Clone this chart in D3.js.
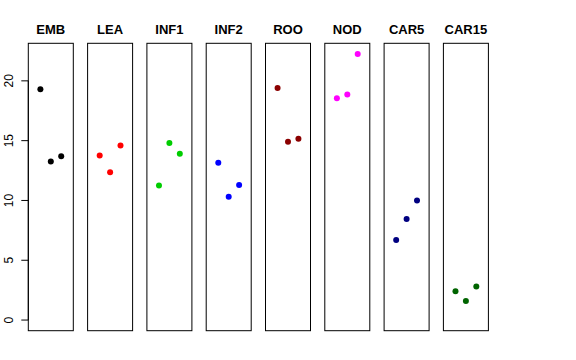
<!DOCTYPE html>
<meta charset="utf-8">
<style>
body { margin: 0; background: #fff; }
svg { font-family: "Liberation Sans", Arial, sans-serif; }
.title { font-weight: bold; font-size: 13px; }
.axis text { font-size: 12px; }
</style>
<body>
<script src="https://cdn.jsdelivr.net/npm/d3@7"></script>
<script>

// panel names, colours and the three values drawn in each panel
var groups = ["EMB", "LEA", "INF1", "INF2", "ROO", "NOD", "CAR5", "CAR15"];
var colors = ["#000000", "#ff0000", "#00cd00", "#0000ff", "#8b0000", "#ff00ff", "#000080", "#006400"];
var vals = [
  [19.3, 13.25, 13.7],
  [13.75, 12.35, 14.6],
  [11.25, 14.8, 13.9],
  [13.15, 10.3, 11.3],
  [19.4, 14.9, 15.15],
  [18.55, 18.85, 22.25],
  [6.7, 8.45, 10.0],
  [2.4, 1.6, 2.8]
];
var yTicks = [0, 5, 10, 15, 20];

var width = 576, height = 360;
var plotTop = 43.3, plotBottom = 330.7;
var panelW = 45, firstX = 28.3, step = 59.3;

var svg = d3.select("body").append("svg")
  .attr("width", width)
  .attr("height", height);

// y range is 0..max, padded by 4% like base graphics
var ymax = d3.max(vals, function(d) { return d3.max(d); });
var pad = ymax * 0.04;
var y = d3.scaleLinear().domain([-pad, ymax + pad]).range([plotBottom, plotTop]);

// x positions 1..3 inside a 0..4 window (also padded 4%)
var x = d3.scaleLinear().domain([-0.16, 4.16]).range([0, panelW]);

var panels = svg.selectAll("g.panel")
  .data(groups)
  .enter().append("g")
    .attr("class", "panel")
    .attr("transform", function(d, i) { return "translate(" + (firstX + i * step) + ",0)"; });

panels.append("rect")
  .attr("x", 0)
  .attr("y", plotTop)
  .attr("width", panelW)
  .attr("height", plotBottom - plotTop)
  .attr("fill", "none")
  .attr("stroke", "#000");

panels.append("text")
  .attr("class", "title")
  .attr("x", panelW / 2)
  .attr("y", 34)
  .attr("text-anchor", "middle")
  .text(function(d) { return d; });

panels.selectAll("circle")
  .data(function(d, i) { return vals[i].map(function(v, j) { return {v: v, j: j + 1, c: colors[i]}; }); })
  .enter().append("circle")
    .attr("cx", function(d) { return x(d.j); })
    .attr("cy", function(d) { return y(d.v); })
    .attr("r", 3)
    .attr("fill", function(d) { return d.c; });

// left axis on the first panel
var axis = svg.append("g")
  .attr("class", "axis")
  .attr("transform", "translate(" + firstX + ",0)");

axis.append("line")
  .attr("x1", 0).attr("x2", 0)
  .attr("y1", y(0)).attr("y2", y(20))
  .attr("stroke", "#000");

axis.selectAll("line.tick")
  .data(yTicks)
  .enter().append("line")
    .attr("class", "tick")
    .attr("x1", -7).attr("x2", 0)
    .attr("y1", function(d) { return y(d); })
    .attr("y2", function(d) { return y(d); })
    .attr("stroke", "#000");

axis.selectAll("text.lab")
  .data(yTicks)
  .enter().append("text")
    .attr("class", "lab")
    .attr("transform", function(d) { return "translate(-15.6," + y(d) + ") rotate(-90)"; })
    .attr("text-anchor", "middle")
    .text(function(d) { return d; });

</script>
